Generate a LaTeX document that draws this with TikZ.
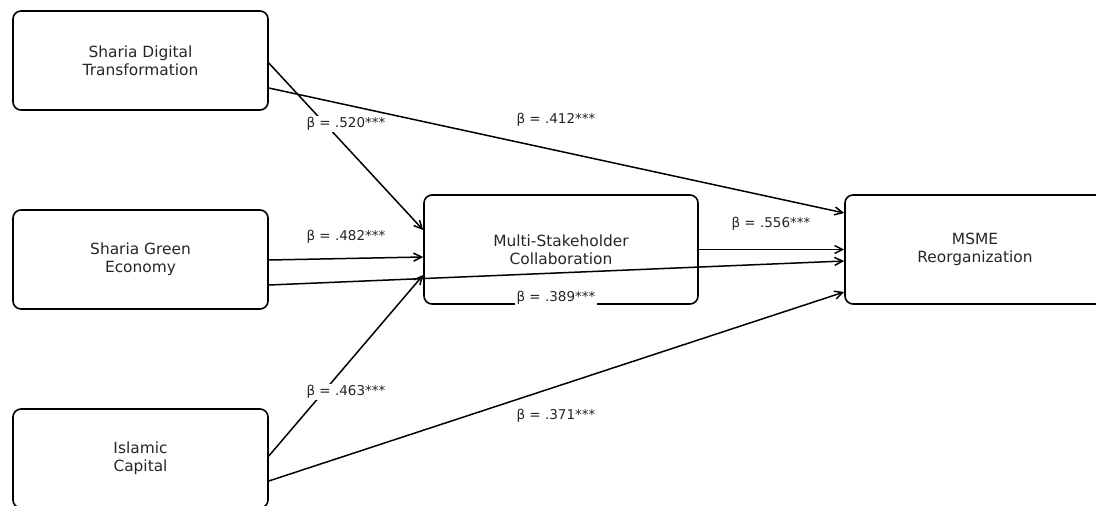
\documentclass[tikz,border=0pt]{standalone}
\usepackage{fontspec}
\setmainfont{DejaVu Sans}
\usetikzlibrary{arrows.meta}

\begin{document}
\begin{tikzpicture}[x=1pt,y=-1pt,
  box/.style={draw,line width=1.6pt,rounded corners=8pt,minimum height=99pt,align=center,text=black!85,font=\fontsize{15.4}{18}\selectfont},
  beta/.style={fill=white,inner sep=1.5pt,text=black!85,font=\fontsize{13.5}{16}\selectfont},
  path/.style={line width=1.5pt,-{Straight Barb[length=8pt,width=8pt,line width=1.5pt]}}]
\useasboundingbox (0,0) rectangle (1096,506);
\clip (0,0) rectangle (1096,506);

\node[box,minimum width=255pt] (sdt) at (140.5,60.5) {Sharia Digital\\Transformation};
\node[box,minimum width=255pt] (sge) at (140.5,259.5) {Sharia Green\\Economy};
\node[box,minimum width=255pt] (ic) at (140.5,458.5) {Islamic\\Capital};
\node[box,minimum width=274pt,minimum height=109pt] (msc) at (561,249.5) {Multi-Stakeholder\\Collaboration};
\node[box,minimum width=260pt,minimum height=109pt] (msme) at (975,249.5) {MSME\\Reorganization};

\draw[path] ([yshift=-2.5pt]sdt.east) -- ([yshift=19.5pt]msc.west);
\draw[path] ([yshift=-27.5pt]sdt.east) -- ([yshift=36.5pt]msme.west);
\draw[path] ([yshift=-0.5pt]sge.east) -- ([yshift=-7.5pt]msc.west);
\draw[path] ([yshift=-25.5pt]sge.east) -- ([yshift=-11.5pt]msme.west);
\draw[path] ([yshift=2.5pt]ic.east) -- ([yshift=-25.5pt]msc.west);
\draw[path] ([yshift=-22.5pt]ic.east) -- ([yshift=-42.5pt]msme.west);
\draw[path] (msc.east) -- (msme.west);

\node[beta] (b1) at (346,124) {β = .520***};
\node[beta] (b2) at (556,120) {β = .412***};
\node[beta] (b3) at (346,237) {β = .482***};
\node[beta] (b4) at (556,298) {β = .389***};
\node[beta] (b5) at (346,392) {β = .463***};
\node[beta] (b6) at (556,416) {β = .371***};
\node[beta] (b7) at (771,224) {β = .556***};

\end{tikzpicture}
\end{document}
